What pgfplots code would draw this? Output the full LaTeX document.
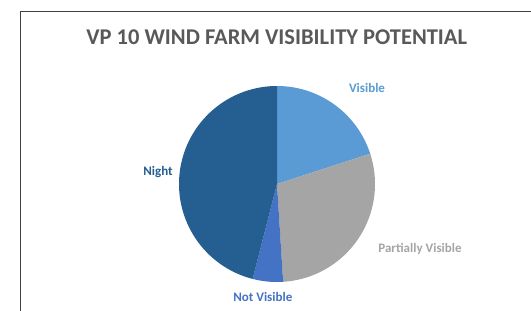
\documentclass[border=0pt]{standalone}
\usepackage{pgfplots}
\pgfplotsset{compat=1.18}
\usepackage{fontspec}
\setmainfont{Carlito}
\definecolor{cVis}{HTML}{5B9BD5}
\definecolor{cPart}{HTML}{A5A5A5}
\definecolor{cNot}{HTML}{4472C4}
\definecolor{cNight}{HTML}{255E91}
\definecolor{cTitle}{HTML}{595959}
\definecolor{cFrame}{HTML}{404040}
% slice shares in percent, clockwise from 12 o'clock
\def\vVis{20}
\def\vPart{29}
\def\vNot{5}
\def\vNight{46}
\begin{document}
\begin{tikzpicture}
\useasboundingbox (0,0) rectangle (531pt,311pt);
\fill[white] (0,0) rectangle (531pt,311pt);
\draw[cFrame, line width=0.9pt] (20pt,-1pt) -- (20pt,300pt) -- (532pt,300pt);
\pgfmathsetmacro{\aA}{90}
\pgfmathsetmacro{\aB}{\aA-3.6*\vVis}
\pgfmathsetmacro{\aC}{\aB-3.6*\vPart}
\pgfmathsetmacro{\aD}{\aC-3.6*\vNot}
\pgfmathsetmacro{\aE}{\aD-3.6*\vNight}
\begin{axis}[
  at={(277pt,127pt)}, anchor=center,
  scale only axis, width=196pt, height=196pt,
  xmin=-1, xmax=1, ymin=-1, ymax=1,
  axis lines=none, clip=false,
]
\addplot[draw=none, fill=cVis, domain=\aB:\aA, samples=60] ({cos(x)},{sin(x)}) -- (axis cs:0,0) -- cycle;
\addplot[draw=none, fill=cPart, domain=\aC:\aB, samples=60] ({cos(x)},{sin(x)}) -- (axis cs:0,0) -- cycle;
\addplot[draw=none, fill=cNot, domain=\aD:\aC, samples=20] ({cos(x)},{sin(x)}) -- (axis cs:0,0) -- cycle;
\addplot[draw=none, fill=cNight, domain=\aE:\aD, samples=100] ({cos(x)},{sin(x)}) -- (axis cs:0,0) -- cycle;
\end{axis}
\node[anchor=base, text=cTitle, font=\bfseries\fontsize{22.5}{26}\selectfont] at (276.7pt,266pt) {VP 10 WIND FARM VISIBILITY POTENTIAL};
\node[anchor=base, text=cVis, font=\bfseries\fontsize{13}{15}\selectfont] at (367pt,218pt) {Visible};
\node[anchor=base, text=cPart, font=\bfseries\fontsize{13}{15}\selectfont] at (420pt,58pt) {Partially Visible};
\node[anchor=base, text=cNight, font=\bfseries\fontsize{13}{15}\selectfont] at (158pt,135.3pt) {Night};
\node[anchor=base, text=cNot, font=\bfseries\fontsize{13}{15}\selectfont] at (262.8pt,9.3pt) {Not Visible};
\end{tikzpicture}
\end{document}
